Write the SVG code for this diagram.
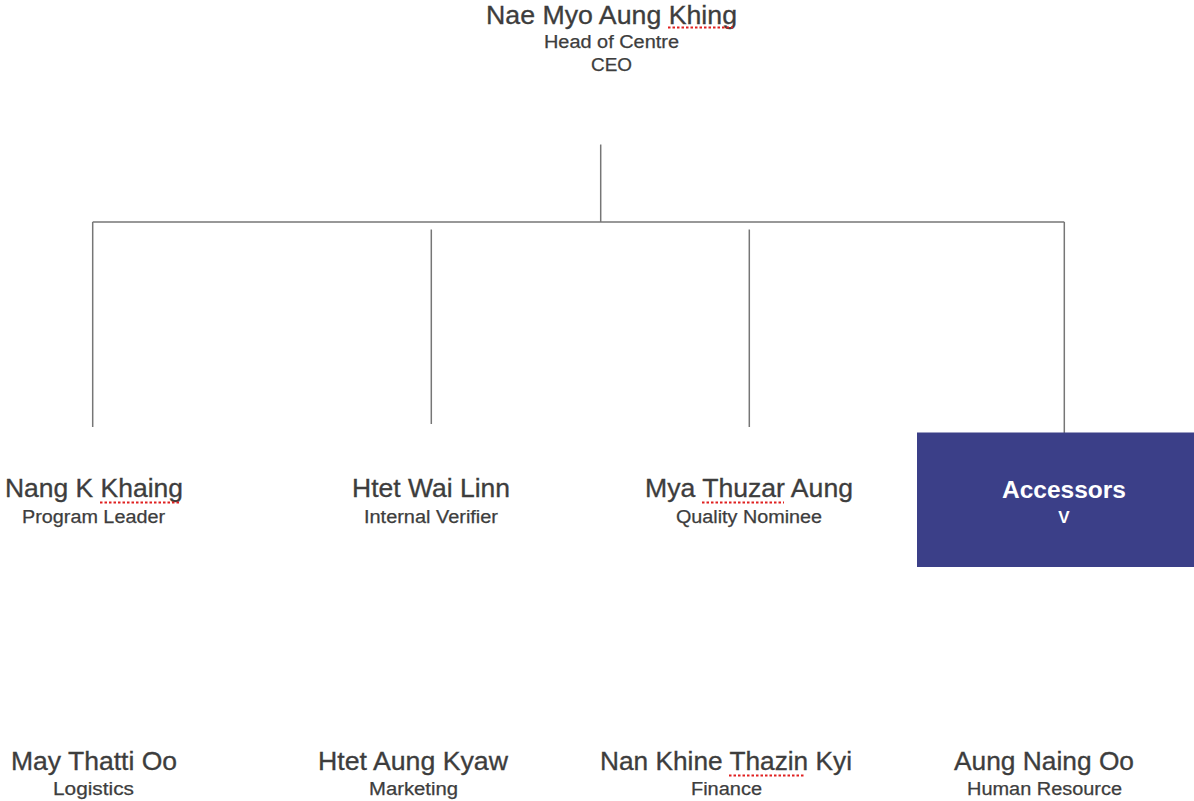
<svg xmlns="http://www.w3.org/2000/svg" width="1194" height="801" viewBox="0 0 1194 801">
<style>
text{text-anchor:middle;font-family:"Liberation Sans",Arial,sans-serif}
.name{font-size:25px;fill:#3d3d3d;stroke:#3d3d3d;stroke-width:0.3}
.role{font-size:18px;fill:#3d3d3d;stroke:#3d3d3d;stroke-width:0.25}
.wname{font-size:24.5px;font-weight:bold;fill:#ffffff}
.wrole{font-size:17px;font-weight:bold;fill:#ffffff}
.conn{stroke:#767676;stroke-width:1.5;fill:none}
.spell{stroke:#e02020;stroke-width:2;stroke-dasharray:2.5 2;fill:none}
</style>
<rect width="1194" height="801" fill="#ffffff"/>
<g id="connectors">
<path class="conn" d="M600.7 144.5 V222"/>
<path class="conn" d="M92.7 222 H1064.3"/>
<path class="conn" d="M92.7 222 V427"/>
<path class="conn" d="M1064.3 222 V433"/>
<path class="conn" d="M431.3 229.5 V424"/>
<path class="conn" d="M749.3 229.5 V427"/>
</g>
<g id="ceo">
<text class="name" x="611.5" y="23.5" textLength="251" lengthAdjust="spacingAndGlyphs">Nae Myo Aung Khing</text>
<path class="spell" d="M668 27.5 H733"/>
<text class="role" x="611.5" y="48" textLength="135" lengthAdjust="spacingAndGlyphs">Head of Centre</text>
<text class="role" x="611.5" y="71" textLength="41" lengthAdjust="spacingAndGlyphs">CEO</text>
</g>
<g id="program-leader">
<text class="name" x="94" y="497" textLength="178" lengthAdjust="spacingAndGlyphs">Nang K Khaing</text>
<path class="spell" d="M100 502.5 H181"/>
<text class="role" x="93.5" y="523" textLength="143" lengthAdjust="spacingAndGlyphs">Program Leader</text>
</g>
<g id="internal-verifier">
<text class="name" x="431" y="497" textLength="158" lengthAdjust="spacingAndGlyphs">Htet Wai Linn</text>
<text class="role" x="431" y="523" textLength="134" lengthAdjust="spacingAndGlyphs">Internal Verifier</text>
</g>
<g id="quality-nominee">
<text class="name" x="749" y="497" textLength="208" lengthAdjust="spacingAndGlyphs">Mya Thuzar Aung</text>
<path class="spell" d="M702 502.5 H784"/>
<text class="role" x="749" y="523" textLength="146" lengthAdjust="spacingAndGlyphs">Quality Nominee</text>
</g>
<g id="accessors">
<rect x="917" y="432.5" width="277" height="134.5" fill="#3b3f88"/>
<text class="wname" x="1064" y="498" textLength="124" lengthAdjust="spacingAndGlyphs">Accessors</text>
<text class="wrole" x="1064" y="523">V</text>
</g>
<g id="logistics">
<text class="name" x="94" y="770" textLength="166" lengthAdjust="spacingAndGlyphs">May Thatti Oo</text>
<text class="role" x="93.5" y="795" textLength="81" lengthAdjust="spacingAndGlyphs">Logistics</text>
</g>
<g id="marketing">
<text class="name" x="413" y="770" textLength="190" lengthAdjust="spacingAndGlyphs">Htet Aung Kyaw</text>
<text class="role" x="413.5" y="795" textLength="89" lengthAdjust="spacingAndGlyphs">Marketing</text>
</g>
<g id="finance">
<text class="name" x="726" y="770" textLength="252" lengthAdjust="spacingAndGlyphs">Nan Khine Thazin Kyi</text>
<path class="spell" d="M729 775.5 H805"/>
<text class="role" x="726.5" y="795" textLength="71" lengthAdjust="spacingAndGlyphs">Finance</text>
</g>
<g id="human-resource">
<text class="name" x="1044" y="770" textLength="180" lengthAdjust="spacingAndGlyphs">Aung Naing Oo</text>
<text class="role" x="1044.5" y="795" textLength="155" lengthAdjust="spacingAndGlyphs">Human Resource</text>
</g>
</svg>
